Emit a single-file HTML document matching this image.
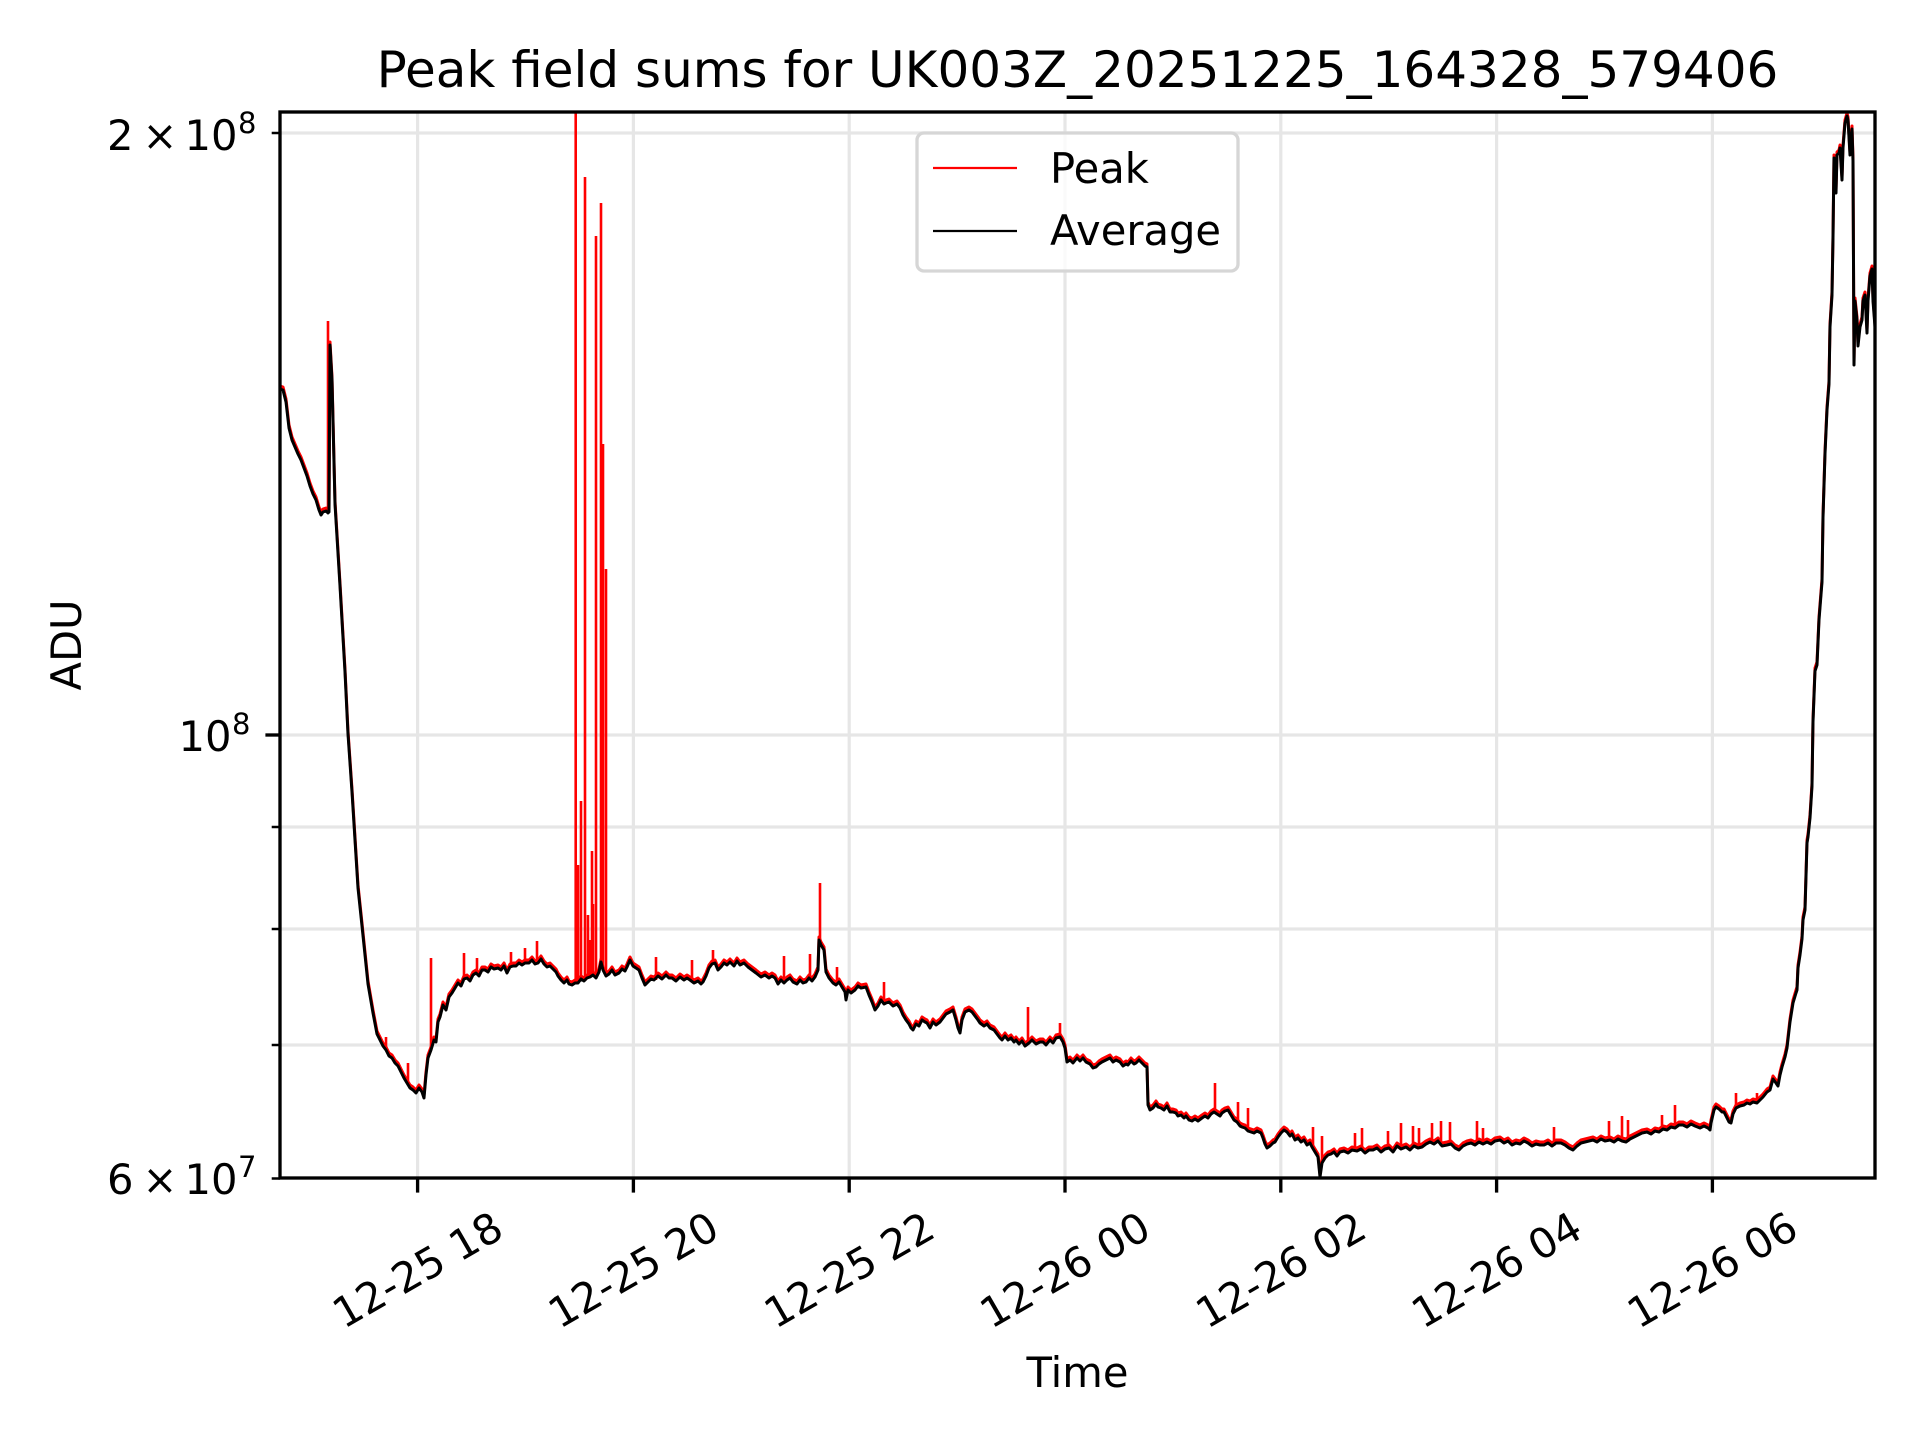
<!DOCTYPE html>
<html>
<head>
<meta charset="utf-8">
<style>
  html, body { margin: 0; padding: 0; background: #ffffff; }
  svg { display: block; }
  text { font-family: "DejaVu Sans", "Liberation Sans", sans-serif; fill: #000; }
</style>
</head>
<body>
<svg width="1920" height="1440" viewBox="0 0 1920 1440" xmlns="http://www.w3.org/2000/svg" xmlns:xlink="http://www.w3.org/1999/xlink">
  <defs>
    <clipPath id="ax">
      <rect x="280" y="112" width="1595" height="1066"/>
    </clipPath>
    <polyline id="avg" points="280,389 283,390 286,402 289,428 292,440 295,447 298,454 301,460 304,468 307,476 310,486 313,494 316,500 319,510 321,515 323,512 326,511 328,513 329,512 330,345 332,380 335,504 340,586 345,672 348,734 352,792 355,840 358,888 362,926 365,955 368,984 373,1013 377,1034 380,1040 383,1046 386,1050 389,1056 392,1058 395,1063 398,1066 401,1072 404,1078 407,1083 410,1088 413,1090 416,1093 419,1088 422,1092 424,1098 426,1075 428,1058 431,1050 434,1040 436,1042 438,1022 440,1017 443,1005 446,1010 449,997 452,993 455,988 458,983 461,986 464,979 467,978 470,981 473,975 476,973 479,976 482,970 485,970 488,972 491,967 494,969 498,968 501,970 504,966 507,973 510,967 513,966 516,966 519,963 522,965 525,963 529,963 532,960 535,964 538,963 541,959 544,964 547,967 550,966 553,969 556,972 558,976 561,980 564,983 567,980 569,984 572,985 575,983 578,983 581,979 584,981 587,978 590,977 593,975 596,978 599,972 601,962 603,970 606,976 609,974 612,970 615,975 619,973 622,969 625,971 627,967 630,960 633,966 636,968 639,970 642,978 645,985 648,982 651,979 654,980 658,976 662,979 666,975 669,978 672,978 676,981 680,977 684,980 687,978 690,980 694,983 698,981 701,984 703,982 706,976 709,968 712,964 715,963 718,970 721,967 724,963 727,965 730,962 734,966 737,961 740,965 744,963 748,967 752,970 756,973 761,977 765,975 769,978 772,976 775,978 778,984 781,980 784,983 787,980 790,978 793,982 797,984 800,980 803,983 806,982 809,978 812,981 815,977 818,970 819,940 821,945 824,950 826,972 829,978 833,983 836,985 839,982 842,987 845,992 846,1000 848,990 851,993 855,990 858,986 861,988 866,987 869,995 872,1002 875,1010 878,1006 881,1000 884,1004 886,1003 889,1002 893,1006 897,1004 900,1008 903,1015 906,1020 909,1024 911,1028 913,1030 916,1024 919,1026 922,1020 925,1022 927,1023 930,1028 933,1022 936,1025 940,1022 943,1018 946,1014 950,1012 953,1010 956,1020 958,1028 960,1033 962,1020 965,1012 969,1010 972,1012 975,1016 978,1020 980,1023 984,1026 987,1024 990,1028 994,1030 997,1034 1000,1038 1002,1040 1005,1036 1008,1040 1011,1038 1014,1042 1016,1040 1019,1044 1022,1041 1025,1046 1029,1043 1032,1040 1036,1044 1040,1042 1043,1042 1046,1045 1050,1040 1053,1043 1056,1038 1060,1037 1063,1042 1065,1048 1067,1062 1070,1060 1073,1063 1077,1058 1080,1061 1083,1058 1086,1062 1090,1064 1093,1068 1096,1067 1099,1064 1102,1062 1106,1060 1110,1058 1113,1062 1116,1060 1120,1062 1123,1066 1126,1064 1128,1065 1131,1061 1134,1064 1136,1063 1139,1060 1142,1063 1145,1066 1147,1067 1148,1105 1150,1110 1153,1108 1156,1104 1158,1107 1161,1108 1164,1110 1167,1106 1170,1112 1173,1112 1176,1113 1178,1116 1181,1115 1184,1118 1186,1116 1189,1120 1192,1121 1195,1119 1198,1121 1202,1118 1205,1116 1208,1118 1211,1114 1214,1112 1217,1114 1220,1116 1222,1113 1225,1111 1228,1110 1231,1115 1234,1120 1237,1122 1240,1126 1242,1127 1245,1128 1248,1131 1251,1132 1254,1133 1257,1131 1261,1133 1263,1138 1265,1144 1267,1148 1270,1146 1273,1143 1275,1142 1278,1137 1281,1133 1284,1130 1287,1132 1290,1136 1292,1134 1295,1140 1298,1138 1301,1142 1304,1140 1307,1145 1310,1143 1312,1147 1315,1152 1318,1157 1320,1177 1322,1163 1325,1158 1328,1155 1331,1154 1334,1152 1337,1156 1340,1152 1344,1151 1348,1153 1352,1150 1357,1151 1361,1149 1365,1153 1369,1150 1373,1150 1377,1148 1381,1152 1385,1149 1389,1148 1393,1152 1397,1146 1401,1149 1406,1147 1410,1150 1414,1146 1418,1148 1422,1147 1426,1144 1430,1142 1434,1144 1438,1141 1442,1146 1447,1145 1451,1144 1455,1148 1459,1150 1463,1146 1467,1144 1471,1143 1475,1145 1479,1142 1483,1144 1487,1142 1491,1144 1495,1141 1500,1140 1504,1143 1508,1141 1512,1145 1516,1143 1520,1144 1524,1141 1528,1143 1532,1146 1536,1144 1540,1145 1544,1145 1548,1143 1552,1146 1556,1143 1561,1143 1565,1145 1569,1148 1573,1150 1577,1146 1581,1143 1585,1142 1589,1141 1593,1140 1597,1142 1601,1139 1605,1141 1610,1140 1614,1142 1618,1139 1622,1141 1626,1142 1630,1139 1634,1137 1638,1135 1642,1133 1647,1132 1651,1134 1655,1131 1659,1132 1663,1129 1667,1130 1671,1127 1675,1128 1679,1125 1683,1125 1687,1127 1691,1124 1695,1126 1700,1128 1704,1126 1708,1128 1710,1130 1711,1123 1714,1110 1716,1107 1719,1109 1722,1112 1724,1112 1727,1118 1729,1122 1731,1123 1733,1114 1736,1108 1740,1106 1744,1105 1747,1103 1750,1104 1753,1102 1757,1103 1760,1100 1763,1097 1767,1092 1770,1090 1773,1079 1776,1083 1778,1086 1780,1075 1782,1067 1785,1057 1787,1048 1790,1022 1793,1003 1796,993 1797,990 1798,968 1800,955 1802,939 1803,920 1805,910 1807,843 1808,837 1810,818 1812,786 1813,722 1815,671 1817,665 1819,620 1822,582 1823,518 1825,454 1827,410 1829,384 1830,327 1832,295 1833,238 1834,158 1836,193 1837,155 1839,153 1840,148 1842,180 1843,148 1845,123 1847,116 1848,120 1850,155 1852,129 1853,161 1854,365 1855,301 1857,320 1858,346 1860,327 1862,320 1863,301 1865,295 1867,333 1868,301 1870,276 1872,269 1873,301 1875,327"/>
  </defs>
  <rect x="0" y="0" width="1920" height="1440" fill="#ffffff"/>

  <g stroke="#e6e6e6" stroke-width="3.2" fill="none">
    <line x1="280" y1="133" x2="1875" y2="133"/>
    <line x1="280" y1="735" x2="1875" y2="735"/>
    <line x1="280" y1="827" x2="1875" y2="827"/>
    <line x1="280" y1="929" x2="1875" y2="929"/>
    <line x1="280" y1="1045" x2="1875" y2="1045"/>
    <line x1="417.6" y1="112" x2="417.6" y2="1178"/>
    <line x1="633.4" y1="112" x2="633.4" y2="1178"/>
    <line x1="849.2" y1="112" x2="849.2" y2="1178"/>
    <line x1="1065" y1="112" x2="1065" y2="1178"/>
    <line x1="1280.8" y1="112" x2="1280.8" y2="1178"/>
    <line x1="1496.6" y1="112" x2="1496.6" y2="1178"/>
    <line x1="1712.4" y1="112" x2="1712.4" y2="1178"/>
  </g>

  <g clip-path="url(#ax)" fill="none" stroke-linejoin="round">
    <use xlink:href="#avg" href="#avg" transform="translate(0,-3)" stroke="#ff0000" stroke-width="3" fill="none"/>
    <path stroke="#ff0000" stroke-width="2.6" d="M328,512 L328,321 M386,1050 L386,1037 M408,1083 L408,1063 M431,1050 L431,958 M464,979 L464,953 M477,973 L477,958 M511,967 L511,952 M525,963 L525,948 M537,963 L537,941 M575.7,983 L575.7,100 M578,983 L578,865 M581,979 L581,801 M585,981 L585,177 M588,978 L588,915 M590,977 L590,940 M592,976 L592,851 M593,975 L593,904 M596,978 L596,236 M601,962 L601,203 M603,970 L603,444 M606,976 L606,569 M656,980 L656,957 M692,980 L692,960 M713,964 L713,950 M784,983 L784,956 M810,978 L810,954 M820,945 L820,883 M837,985 L837,967 M884,1004 L884,982 M1028,1043 L1028,1007 M1060,1037 L1060,1023 M1215,1112 L1215,1083 M1238,1122 L1238,1102 M1248,1131 L1248,1108 M1313,1147 L1313,1127 M1322,1163 L1322,1136 M1355,1151 L1355,1133 M1362,1149 L1362,1128 M1388,1148 L1388,1131 M1401,1149 L1401,1123 M1413,1146 L1413,1126 M1419,1148 L1419,1128 M1432,1142 L1432,1123 M1441,1146 L1441,1121 M1450,1144 L1450,1122 M1477,1142 L1477,1121 M1483,1144 L1483,1128 M1554,1146 L1554,1127 M1609,1140 L1609,1121 M1622,1141 L1622,1116 M1628,1142 L1628,1120 M1662,1129 L1662,1115 M1675,1128 L1675,1105 M1736,1108 L1736,1093 M1757,1103 L1757,1093 M1847,118 L1847,108"/>
    <use xlink:href="#avg" href="#avg" stroke="#000000" stroke-width="3" fill="none"/>
  </g>

  <rect x="280" y="112" width="1595" height="1066" fill="none" stroke="#000" stroke-width="3.33"/>

  <g stroke="#000">
    <line x1="265.4" y1="735" x2="280" y2="735" stroke-width="3.33"/>
    <line x1="271.7" y1="133" x2="280" y2="133" stroke-width="2.5"/>
    <line x1="271.7" y1="827" x2="280" y2="827" stroke-width="2.5"/>
    <line x1="271.7" y1="929" x2="280" y2="929" stroke-width="2.5"/>
    <line x1="271.7" y1="1045" x2="280" y2="1045" stroke-width="2.5"/>
    <line x1="271.7" y1="1178.5" x2="280" y2="1178.5" stroke-width="2.5"/>
  </g>
  <g stroke="#000" stroke-width="3.33">
    <line x1="417.6" y1="1178" x2="417.6" y2="1192.6"/>
    <line x1="633.4" y1="1178" x2="633.4" y2="1192.6"/>
    <line x1="849.2" y1="1178" x2="849.2" y2="1192.6"/>
    <line x1="1065" y1="1178" x2="1065" y2="1192.6"/>
    <line x1="1280.8" y1="1178" x2="1280.8" y2="1192.6"/>
    <line x1="1496.6" y1="1178" x2="1496.6" y2="1192.6"/>
    <line x1="1712.4" y1="1178" x2="1712.4" y2="1192.6"/>
  </g>

  <g font-size="41.67">
    <text x="107" y="150">2</text>
    <text x="160" y="150" text-anchor="middle">×</text>
    <text x="184.5" y="150">10</text>
    <text x="238" y="133" font-size="29">8</text>
    <text x="178.5" y="751">10</text>
    <text x="232" y="734" font-size="29">8</text>
    <text x="107" y="1194">6</text>
    <text x="160" y="1194" text-anchor="middle">×</text>
    <text x="184.5" y="1194">10</text>
    <text x="238" y="1177" font-size="29">7</text>
  </g>

  <g font-size="41.67" text-anchor="middle">
    <text transform="translate(417.6,1270) rotate(-30)" y="14.5">12-25 18</text>
    <text transform="translate(633.4,1270) rotate(-30)" y="14.5">12-25 20</text>
    <text transform="translate(849.2,1270) rotate(-30)" y="14.5">12-25 22</text>
    <text transform="translate(1065,1270) rotate(-30)" y="14.5">12-26 00</text>
    <text transform="translate(1280.8,1270) rotate(-30)" y="14.5">12-26 02</text>
    <text transform="translate(1496.6,1270) rotate(-30)" y="14.5">12-26 04</text>
    <text transform="translate(1712.4,1270) rotate(-30)" y="14.5">12-26 06</text>
  </g>

  <text x="1077.5" y="1387" font-size="41.67" text-anchor="middle">Time</text>
  <text transform="translate(81,645) rotate(-90)" font-size="41.67" text-anchor="middle">ADU</text>

  <text x="1077.5" y="87" font-size="50" text-anchor="middle">Peak field sums for UK003Z_20251225_164328_579406</text>

  <rect x="917" y="133" width="321" height="138" rx="7" ry="7" fill="rgba(255,255,255,0.8)" stroke="#d6d6d6" stroke-width="3.33"/>
  <line x1="933" y1="168" x2="1017" y2="168" stroke="#ff0000" stroke-width="2.2"/>
  <line x1="933" y1="231" x2="1017" y2="231" stroke="#000000" stroke-width="2.2"/>
  <text x="1050" y="183" font-size="41.67">Peak</text>
  <text x="1050" y="245" font-size="41.67">Average</text>
</svg>
</body>
</html>
